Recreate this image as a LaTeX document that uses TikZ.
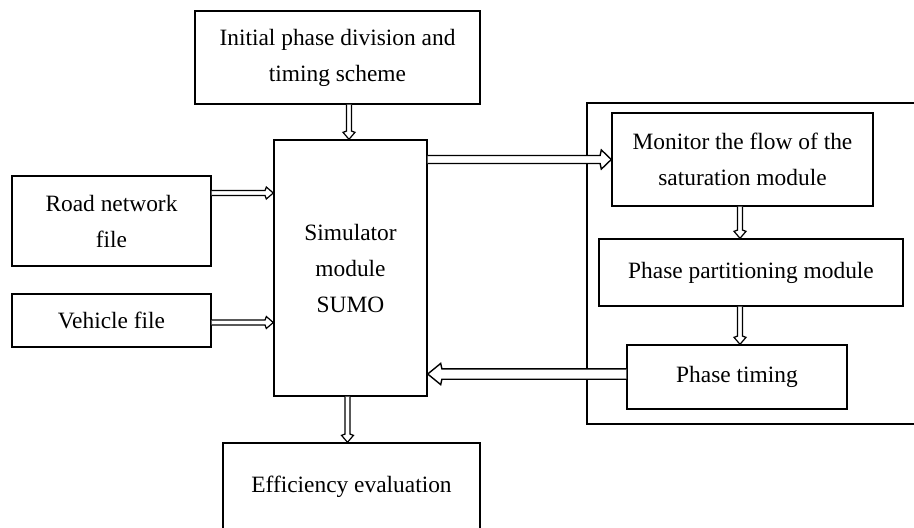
\documentclass[tikz,border=0pt]{standalone}
\usepackage{fontspec}
\setmainfont{Liberation Serif}
\usetikzlibrary{calc, positioning}

% hollow double-line arrow, drawn as one outline from start to target
\tikzset{
    flow gap/.store in=\flowgap,
    flow head/.store in=\flowhead,
    flow len/.store in=\flowlen,
    flow gap=1.25pt, flow head=3pt, flow len=3.5pt,
    hollow flow/.style={draw, line width=0.6pt, fill=white, line join=miter,
        to path={let \p1=(\tikztostart), \p2=(\tikztotarget),
                     \n1={atan2(\y2-\y1,\x2-\x1)} in
            ($(\p1)+(\n1+90:\flowgap)$)
            -- ($(\p2)+(\n1:-\flowlen-0.6pt)+(\n1+90:\flowgap)$)
            -- ($(\p2)+(\n1:-\flowlen)+(\n1+90:\flowhead)$)
            -- (\p2)
            -- ($(\p2)+(\n1:-\flowlen)+(\n1-90:\flowhead)$)
            -- ($(\p2)+(\n1:-\flowlen-0.6pt)+(\n1-90:\flowgap)$)
            -- ($(\p1)+(\n1-90:\flowgap)$)}}
}

\begin{document}
\begin{tikzpicture}[
    x=0.5pt, y=-0.5pt,
    every node/.style={align=center, font=\fontsize{11.7}{18}\selectfont},
    module box/.style={draw, line width=0.7pt, fill=white, inner sep=0pt},
    wide flow/.style={hollow flow, line width=0.7pt, flow gap=2pt, flow head=4.8pt, flow len=5pt},
    wider flow/.style={hollow flow, line width=0.7pt, flow gap=2.6pt, flow head=5.3pt, flow len=6.5pt}
]
\useasboundingbox (0,0) rectangle (914,527);
\clip (0,0) rectangle (914,527);

% ---- Control loop frame (runs off to the right) ----
\node[module box, minimum width=171.5pt, minimum height=160.5pt] (ctrl) at (758.5,263.5) {};

% ---- Left column: inputs ----
\node[module box, minimum width=142.5pt, minimum height=46.5pt] (init) at (337.5,57.5)
    {Initial phase division and\\timing scheme};
\node[module box, minimum width=76.5pt, minimum height=128pt] (sim) at (350.5,268)
    {Simulator\\module\\SUMO};
\node[module box, minimum width=99.5pt, minimum height=45pt] (road) at (111.5,221)
    {Road network\\file};
\node[module box, minimum width=99.5pt, minimum height=26.5pt] (vehicle) at (111.5,320.5)
    {Vehicle file};
\node[module box, minimum width=128.5pt, minimum height=44pt] (eval) at (351.5,487)
    {Efficiency evaluation};

% ---- Right column: inside the frame ----
\node[module box, minimum width=130.5pt, minimum height=46.5pt] (monitor) at (742.5,159.5)
    {Monitor the flow of the\\saturation module};
\node[module box, minimum width=152pt, minimum height=33.5pt] (partition) at (751,272.5)
    {Phase partitioning module};
\node[module box, minimum width=110pt, minimum height=32pt] (timing) at (737,377)
    {Phase timing};

% ---- Arrows ----
\draw[hollow flow] ([xshift=-0.75pt]init.south -| sim.north) to ([xshift=-0.75pt]sim.north);
\draw[hollow flow] ([yshift=14pt]road.east) to ([yshift=14pt]road.east -| sim.west);
\draw[hollow flow] ([yshift=-1pt]vehicle.east) to ([yshift=-1pt]vehicle.east -| sim.west);
\draw[hollow flow] ([xshift=-1.5pt]sim.south) to ([xshift=-1.5pt]sim.south |- eval.north);
\draw[wide flow] (monitor.west -| sim.east) to (monitor.west);
\draw[wider flow] ([yshift=1.5pt]timing.west) to ([yshift=1.5pt]timing.west -| sim.east);
\draw[hollow flow] ([xshift=-1.25pt]monitor.south) to ([xshift=-1.25pt]monitor.south |- partition.north);
\draw[hollow flow] ([xshift=1.5pt]timing.north |- partition.south) to ([xshift=1.5pt]timing.north);

\end{tikzpicture}
\end{document}
